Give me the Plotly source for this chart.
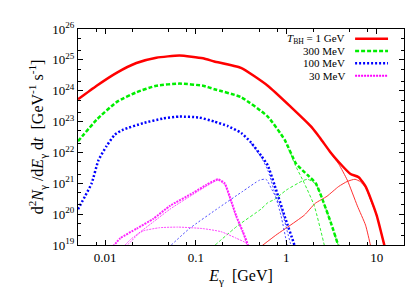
import math
import plotly.graph_objects as go

# photon spectra: energy in GeV, d2N/dEdt in GeV^-1 s^-1
# thick lines = total, thin lines = primary / secondary parts

red_e = [0.005, 0.00804, 0.01334, 0.0221, 0.0367, 0.0661, 0.1202, 0.1603, 0.316, 0.624, 1.122,
         1.862, 2.213, 2.512, 3.09, 3.8, 5.13, 6.31, 7.52, 8.71, 10.0, 11.2, 12.6]
red_n = [5.25e23, 1.45e24, 3.8e24, 7.9e24, 1.17e25, 1.38e25, 1.12e25, 8.9e24, 5.5e24, 1.45e24, 3.0e23,
         7.1e22, 3.8e22, 2.3e22, 1.0e22, 4.9e21, 2.0e21, 1.58e21, 7.9e20, 2.8e20, 8.9e19, 2.5e19, 6.3e18]
red_prim_e = [2.51, 3.09, 3.8, 4.73, 6.1, 7.52, 8.51, 9.12]
red_prim_n = [2.3e22, 9.5e21, 4.2e21, 1.26e21, 1.86e20, 4.4e19, 1.0e19, 4.0e18]
red_sec_e = [0.525, 0.794, 1.035, 1.585, 2.09, 2.82, 3.8, 4.73, 5.75, 6.61, 7.59, 8.71, 10.0, 11.2, 12.6]
red_sec_n = [8.9e18, 2.24e19, 3.8e19, 9.3e19, 2.24e20, 3.8e20, 7.9e20, 1.15e21, 1.35e21, 1.12e21,
             7.1e20, 2.5e20, 8.9e19, 2.5e19, 6.3e18]

green_e = [0.005, 0.00804, 0.01334, 0.0221, 0.0367, 0.0661, 0.1202, 0.1603, 0.316, 0.624, 0.955,
           1.279, 1.514, 1.718, 2.118, 2.512, 3.09, 3.74, 3.98]
green_n = [2.3e22, 1.15e23, 4.27e23, 8.9e23, 1.45e24, 1.7e24, 1.45e24, 1.12e24, 6.2e23, 1.45e23,
           2.63e22, 4.4e21, 2.63e21, 1.86e21, 1.0e21, 3.0e20, 5.6e19, 1.0e19, 5.0e18]
green_prim_e = [0.955, 1.122, 1.23, 1.585, 2.04, 2.63, 2.82]
green_prim_n = [2.5e22, 9.0e21, 4.4e21, 1.0e21, 1.86e20, 1.0e19, 4.0e18]
green_sec_e = [0.164, 0.292, 0.525, 0.624, 0.741, 1.0, 1.514, 1.718, 2.118, 2.512, 3.09, 3.74, 3.98]
green_sec_n = [1.0e19, 4.27e19, 1.45e20, 2.34e20, 3.0e20, 6.0e20, 1.2e21, 1.35e21, 9.5e20, 2.95e20,
               5.6e19, 1.0e19, 5.0e18]

blue_e = [0.005, 0.00603, 0.00708, 0.0084, 0.01035, 0.0128, 0.01585, 0.0263, 0.0437, 0.0661, 0.1096,
          0.1603, 0.227, 0.318, 0.409, 0.527, 0.624, 0.741, 0.955, 1.23, 1.32]
blue_n = [1.45e20, 3.98e20, 1.0e21, 5.5e21, 1.62e22, 3.8e22, 5.5e22, 8.9e22, 1.26e23, 1.45e23,
          1.35e23, 1.0e23, 7.1e22, 4.27e22, 2.09e22, 7.9e21, 3.8e21, 8.9e20, 8.9e19, 1.0e19, 5.0e18]
blue_prim_e = [0.409, 0.527, 0.624, 0.875, 1.02, 1.07]
blue_prim_n = [2.0e22, 7.1e21, 2.7e21, 8.9e19, 1.0e19, 4.0e18]
blue_sec_e = [0.0537, 0.0851, 0.182, 0.331, 0.507, 0.598, 0.679, 0.875, 0.993, 1.148]
blue_sec_n = [1.0e19, 3.4e19, 1.66e20, 5.5e20, 1.26e21, 1.35e21, 7.1e20, 1.58e20, 4.0e19, 7.9e18]

mag_e = [0.0122, 0.01466, 0.02228, 0.034, 0.0519, 0.0935, 0.131, 0.176, 0.209, 0.237, 0.28, 0.332, 0.377, 0.39]
mag_n = [9.0e18, 1.66e19, 3.4e19, 7.1e19, 1.86e20, 4.9e20, 8.9e20, 1.35e21, 1.0e21, 3.8e20, 8.9e19,
         2.7e19, 1.0e19, 5.0e18]
mag_sec_e = [0.0166, 0.0189, 0.034, 0.0519, 0.107, 0.176, 0.209, 0.237, 0.28, 0.332, 0.372]
mag_sec_n = [1.0e19, 1.48e19, 5.6e19, 1.45e20, 5.6e20, 1.26e21, 8.9e20, 3.3e20, 7.9e19, 2.4e19, 8.9e18]
mag_prim_e = [0.01675, 0.01905, 0.02344, 0.02642, 0.0398, 0.0646, 0.12, 0.1905, 0.28, 0.3606, 0.398]
mag_prim_n = [8.9e18, 1.26e19, 2.34e19, 2.88e19, 3.63e19, 3.8e19, 3.4e19, 2.7e19, 1.66e19, 1.15e19, 6.3e18]

legend_labels = ["<i>T</i><sub>BH</sub> = 1 GeV", "300 MeV", "100 MeV", "30 MeV"]
x_ticks = [0.01, 0.1, 1, 10]
x_ticktext = ["0.01", "0.1", "1", "10"]
y_exps = list(range(19, 27))

RED, GREEN, BLUE, MAG = "#ff0000", "#00ee00", "#0000ff", "#ff00ff"
FONT = "Liberation Serif"

fig = go.Figure()


def add_line(x, y, color, width, dash, opacity=1.0):
    fig.add_trace(go.Scatter(x=x, y=y, mode="lines", showlegend=False, opacity=opacity,
                             line=dict(color=color, width=width, dash=dash, shape="spline", smoothing=0.5)))


# thin component lines first
add_line(red_prim_e, red_prim_n, RED, 1, "solid", 0.8)
add_line(red_sec_e, red_sec_n, RED, 1, "solid", 0.8)
add_line(green_prim_e, green_prim_n, GREEN, 1, "3px,2px", 0.8)
add_line(green_sec_e, green_sec_n, GREEN, 1, "3px,2px", 0.8)
add_line(blue_prim_e, blue_prim_n, BLUE, 1, "2px,2px", 0.7)
add_line(blue_sec_e, blue_sec_n, BLUE, 1, "2px,2px", 0.7)
add_line(mag_prim_e, mag_prim_n, MAG, 1, "2px,1px", 0.7)
add_line(mag_sec_e, mag_sec_n, MAG, 1, "2px,1px", 0.7)

# totals
add_line(red_e, red_n, RED, 2.5, "solid")
add_line(green_e, green_n, GREEN, 2.5, "4px,2px")
add_line(blue_e, blue_n, BLUE, 2.5, "2px,2px")
add_line(mag_e, mag_n, MAG, 2, "2px,1px", 0.85)

# legend drawn by hand: text right aligned, sample line on the right
leg_colors = [RED, GREEN, BLUE, MAG]
leg_dash = ["solid", "4px,2px", "2px,2px", "2px,1px"]
leg_width = [2.5, 2.5, 2.5, 2]
for i, lab in enumerate(legend_labels):
    yy = 0.955 - i * 0.057
    fig.add_annotation(x=0.822, y=yy, xref="paper", yref="paper", text=lab, showarrow=False,
                       xanchor="right", yanchor="middle", borderpad=0,
                       font=dict(family=FONT, size=11, color="black"))
    fig.add_shape(type="line", xref="paper", yref="paper", x0=0.85, x1=0.951, y0=yy, y1=yy,
                  line=dict(color=leg_colors[i], width=leg_width[i], dash=leg_dash[i]))

axis_common = dict(showline=True, linecolor="black", linewidth=1, mirror="ticks", ticks="inside",
                   ticklen=5, tickcolor="black", showgrid=False, zeroline=False,
                   tickfont=dict(family=FONT, size=13, color="black"))

x_minor = [m * 10.0 ** k for k in range(-3, 2) for m in (2, 5, 8)]
y_minor = [m * 10.0 ** k for k in range(19, 26) for m in (2, 5)]

fig.update_xaxes(type="log", range=[math.log10(0.005), math.log10(20)], tickvals=x_ticks,
                 ticktext=x_ticktext,
                 minor=dict(tickvals=x_minor, ticks="inside", ticklen=3, tickcolor="black"),
                 title=dict(text="<i>E</i><sub>γ</sub>\u00a0 [GeV]", font=dict(family=FONT, size=16),
                            standoff=6),
                 **axis_common)
fig.update_yaxes(type="log", range=[19, 26], tickvals=[10.0 ** k for k in y_exps],
                 ticktext=["10<sup>%d</sup>" % k for k in y_exps],
                 minor=dict(tickvals=y_minor, ticks="inside", ticklen=3, tickcolor="black"),
                 title=dict(text="d<sup>2</sup><i>N</i><sub>γ</sub> /d<i>E</i><sub>γ</sub> d<i>t</i>\u00a0 [GeV<sup>-1</sup> s<sup>-1</sup>]",
                            font=dict(family=FONT, size=16), standoff=4),
                 **axis_common)

fig.update_layout(width=415, height=291, margin=dict(l=70, r=19, t=15, b=54),
                  font=dict(family=FONT, color="black"),
                  paper_bgcolor="white", plot_bgcolor="white", showlegend=False)

fig.write_html("out.html")
